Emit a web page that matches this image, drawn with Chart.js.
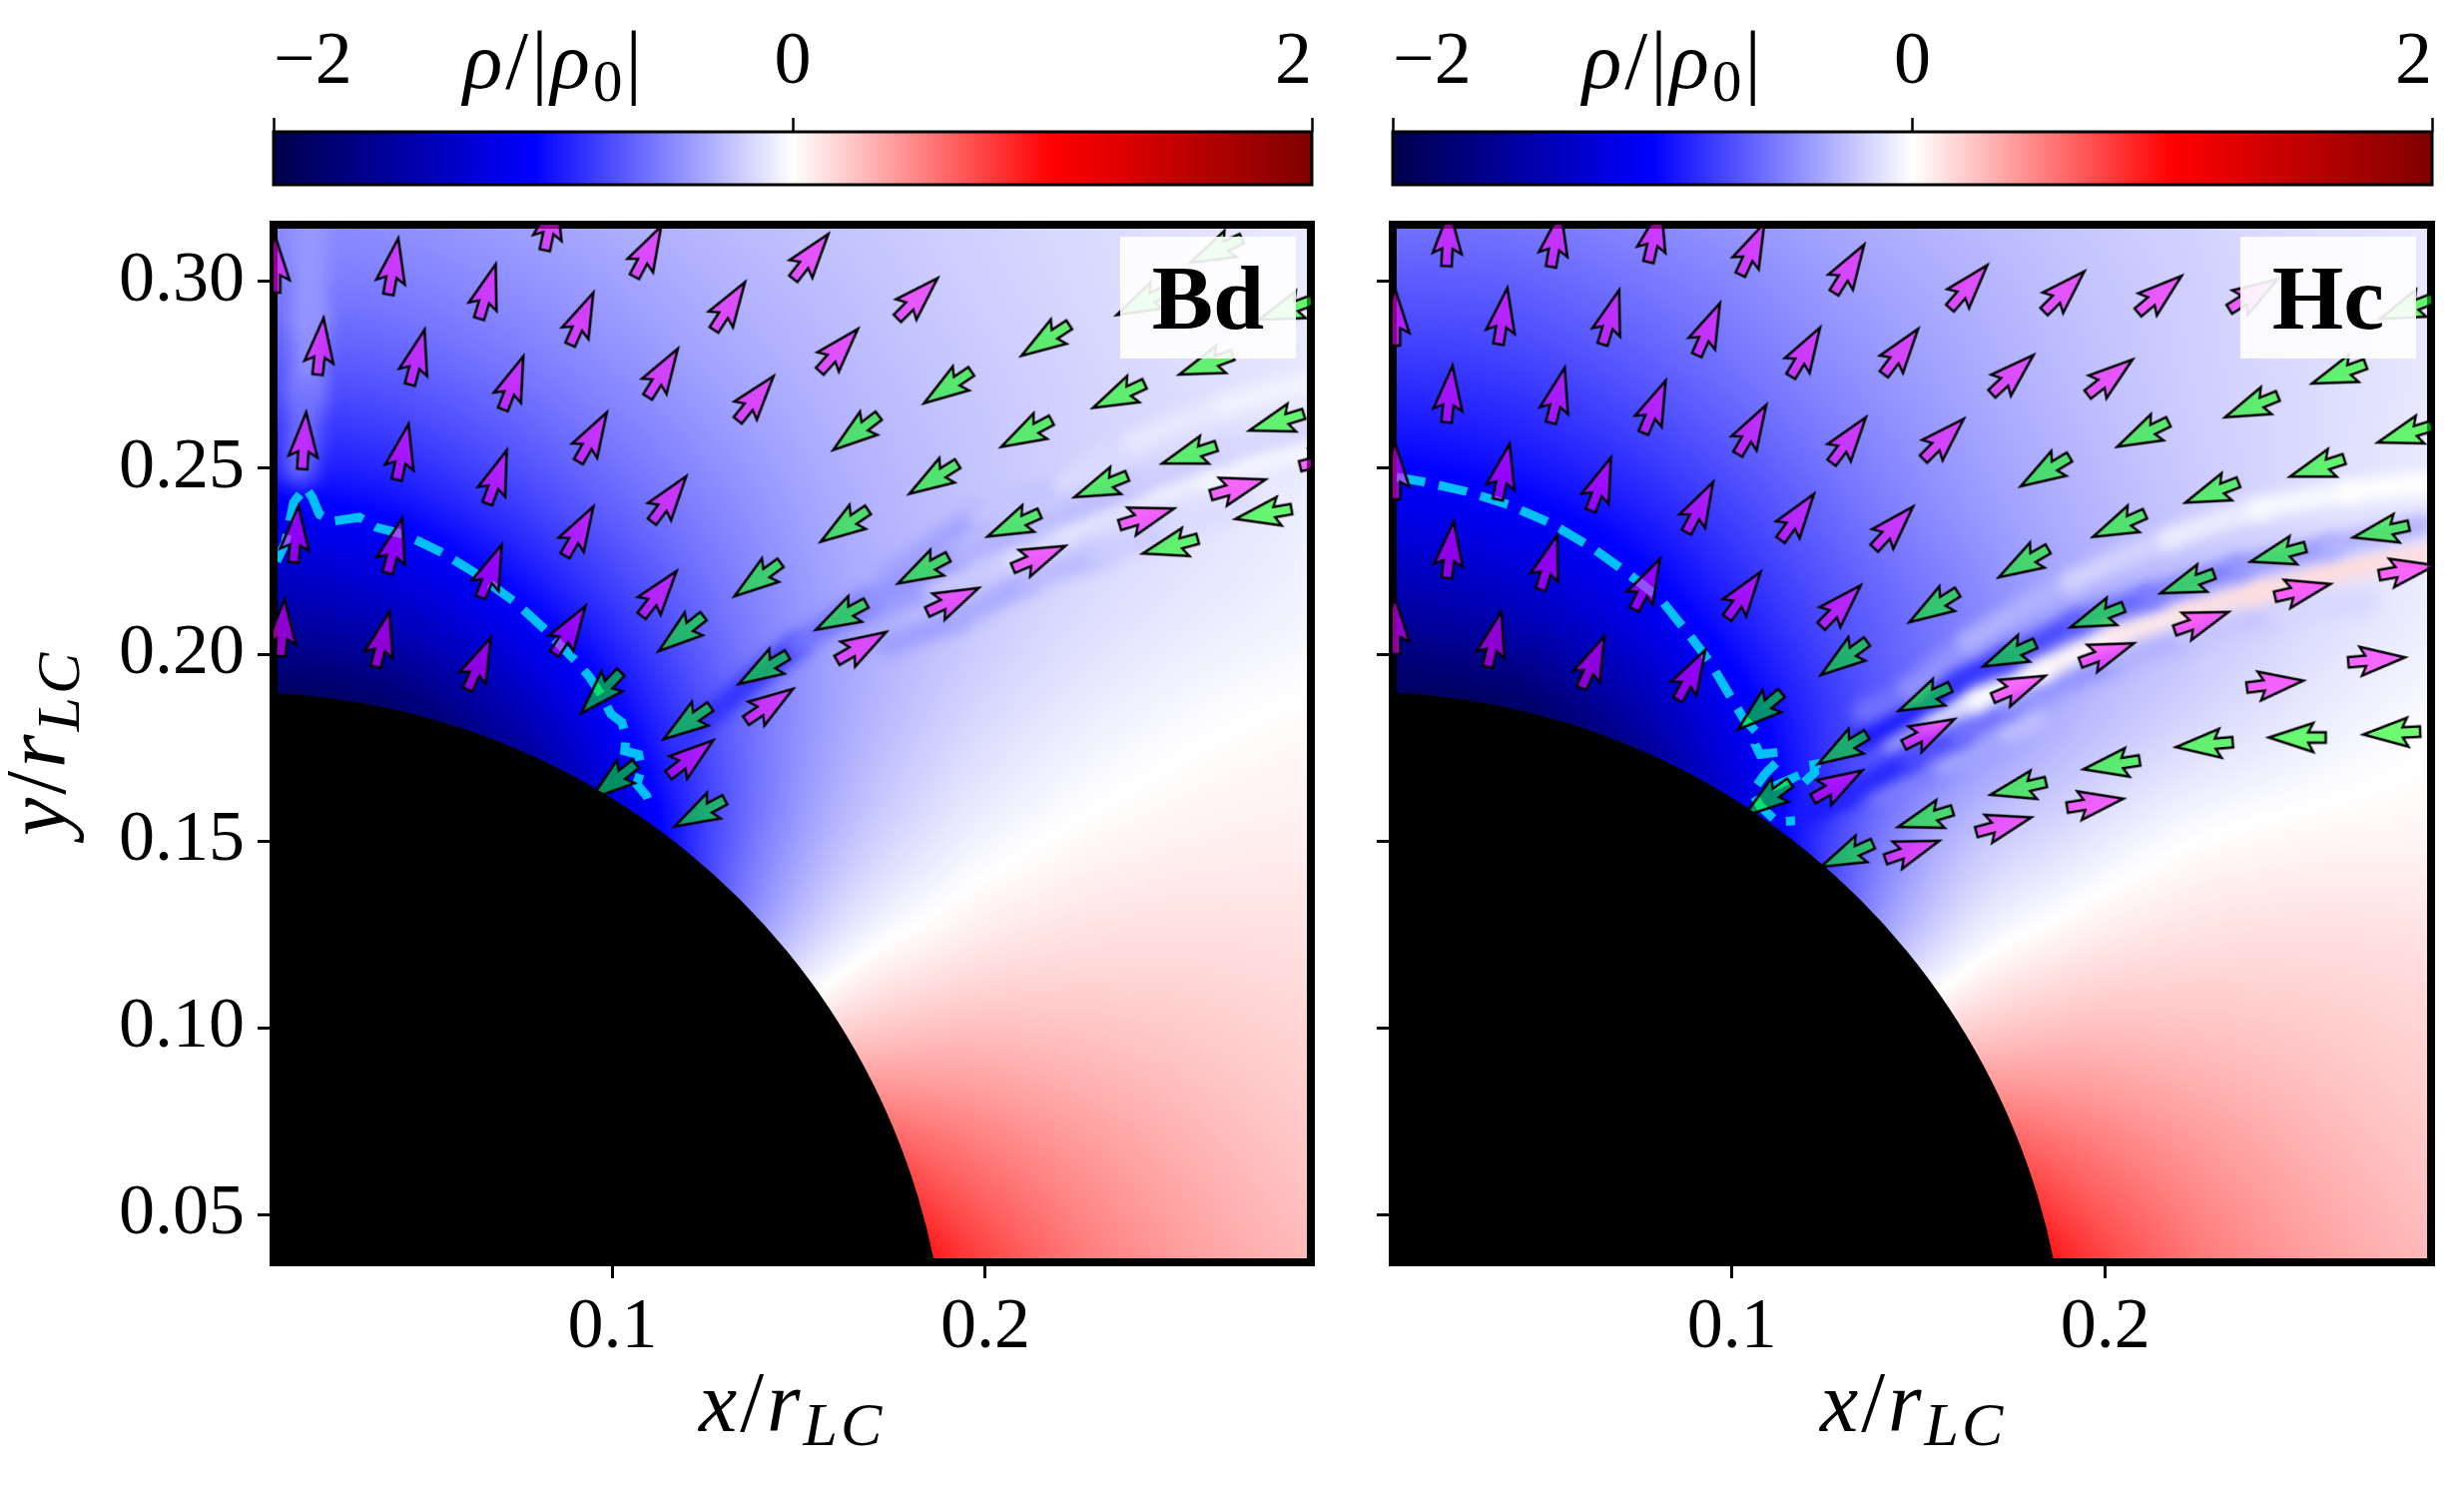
<!DOCTYPE html>
<html><head><meta charset="utf-8">
<script src="https://cdn.jsdelivr.net/npm/chart.js@4"></script>
<style>
html,body{margin:0;padding:0;background:#fff;width:2468px;height:1488px;overflow:hidden}
canvas{position:absolute}
.t{position:absolute;font-family:"Liberation Serif",serif;color:#000;line-height:1;white-space:nowrap;letter-spacing:3px}
.t sub{font-size:.72em;vertical-align:baseline;position:relative;top:.22em;line-height:0}
.box{position:absolute;background:rgba(255,255,255,.9);font-family:"Liberation Serif",serif;font-weight:bold;font-size:92px;line-height:122px;text-align:center}
</style></head><body>
<canvas id="cb1" width="1340" height="190" style="left:0;top:0"></canvas>
<canvas id="cb2" width="1128" height="190" style="left:1340px;top:0"></canvas>
<canvas id="p1" width="1340" height="1308" style="left:0;top:180px"></canvas>
<canvas id="p2" width="1128" height="1308" style="left:1340px;top:180px"></canvas>
<div class="t" style="left:464px;top:20px;font-size:82px"><i>ρ</i>/|<i>ρ</i><sub>0</sub>|</div>
<div class="t" style="left:1585px;top:20px;font-size:82px"><i>ρ</i>/|<i>ρ</i><sub>0</sub>|</div>
<div class="t" style="left:700px;top:1361px;font-size:86px"><i>x</i>/<i>r</i><sub><i>LC</i></sub></div>
<div class="t" style="left:1823px;top:1361px;font-size:86px"><i>x</i>/<i>r</i><sub><i>LC</i></sub></div>
<div class="t" style="left:-7px;top:837px;font-size:86px;transform-origin:0 0;transform:rotate(-90deg)"><i>y</i>/<i>r</i><sub><i>LC</i></sub></div>
<div class="box" style="left:1122px;top:237px;width:176px;height:122px">Bd</div>
<div class="box" style="left:2244px;top:237px;width:176px;height:122px">Hc</div>
<script>
// ---- axes
const xRange=[0.0091,0.2873], yRange=[0.0372,0.3152];
const xTicks=[0.1,0.2], yTicks=[0.05,0.10,0.15,0.20,0.25,0.30], cbTicks=[-2,0,2];
const surfaceRadius=0.19;
// ---- charge density grid (value at each grid node, rho/|rho0|)
const gridX=[0.01,0.04,0.07,0.10,0.13,0.16,0.19,0.22,0.25,0.28,0.31];
const gridY=[0.33,0.30,0.27,0.24,0.21,0.18,0.15,0.12,0.09,0.06,0.03];
const bdGrid=[
[-.42,-.40,-.35,-.29,-.25,-.21,-.18,-.15,-.12,-.09,-.07],
[-.52,-.50,-.44,-.37,-.30,-.25,-.20,-.16,-.12,-.09,-.06],
[-.72,-.68,-.58,-.47,-.37,-.29,-.23,-.18,-.14,-.10,-.06],
[-1.02,-.95,-.79,-.61,-.46,-.33,-.25,-.18,-.13,-.08,-.04],
[-1.50,-1.36,-1.10,-.81,-.55,-.36,-.24,-.15,-.09,-.05,-.01],
[-2,-1.9,-1.55,-1.05,-.64,-.35,-.18,-.08,-.02,.015,.03],
[-2,-2,-2,-1.3,-.66,-.27,-.08,.01,.05,.065,.07],
[-2,-2,-2,-1.4,-.5,-.07,.08,.13,.14,.13,.11],
[-1,-1,-.5,0,.2,.31,.33,.29,.24,.19,.155],
[1,1,1,1,1,.86,.63,.46,.34,.25,.19],
[1.5,1.5,1.5,1.5,1.5,1.43,.9,.59,.41,.3,.22]];
const hcGrid=[
[-.5,-.48,-.43,-.37,-.31,-.25,-.21,-.17,-.13,-.10,-.07],
[-.64,-.62,-.55,-.47,-.38,-.31,-.24,-.19,-.14,-.10,-.07],
[-.84,-.80,-.70,-.58,-.46,-.36,-.27,-.20,-.15,-.10,-.06],
[-1.1,-1.03,-.90,-.73,-.56,-.42,-.31,-.22,-.15,-.09,-.05],
[-1.55,-1.42,-1.18,-.90,-.67,-.50,-.34,-.24,-.15,-.08,-.03],
[-2,-1.95,-1.6,-1.12,-.74,-.46,-.28,-.16,-.08,-.02,.01],
[-2,-2,-2,-1.3,-.68,-.28,-.12,-.01,.03,.04,.05],
[-2,-2,-2,-1.4,-.5,-.07,.08,.13,.14,.13,.11],
[-1,-1,-.5,0,.2,.31,.33,.29,.24,.19,.155],
[1,1,1,1,1,.86,.63,.46,.34,.25,.19],
[1.5,1.5,1.5,1.5,1.5,1.43,.9,.59,.41,.3,.22]];
// ---- current-sheet streaks: [x, y, rho]
const bdStreaks=[
[[.1178,.1766,-.8],[.1493,.2023,-.55],[.1683,.214,-.42],[.1924,.2263,-.3],[.2114,.2335,-.26],[.24,.2451,-.2],[.2638,.2542,-.16],[.2861,.2603,-.13]],
[[.1636,.2087,-.38],[.1856,.2184,-.2],[.2066,.2263,-.12],[.221,.2336,-.09],[.2401,.2416,-.05],[.2592,.2478,-.03],[.286,.2558,-.01]],
[[.1731,.2023,-.38],[.1923,.2095,-.33],[.2114,.2194,-.27],[.2305,.2264,-.2],[.2497,.2336,-.14],[.2700,.2400,-.09]],
[[.1731,.2211,-.36],[.198,.2371,-.23],[.221,.2461,-.14],[.2401,.2568,-.09],[.2639,.2665,-.05],[.286,.2729,-.03]],
[[.0187,.32,-.4],[.0187,.29,-.42],[.0178,.27,-.55],[.016,.25,-.8]]];
const hcStreaks=[
[[.1353,.1846,-.55],[.1476,.1907,-.42],[.1634,.2033,-.3],[.1907,.2194,-.17],[.2169,.2309,-.07],[.241,.2389,-.02],[.2653,.2435,0],[.2861,.2461,.02]],
[[.1353,.1773,-.9],[.1433,.182,-.9],[.1548,.1895,-.85],[.1586,.1926,-.8],[.1733,.1988,-.72],[.1925,.2087,-.6],[.212,.2156,-.5],[.236,.2234,-.4],[.2604,.229,-.3],[.2855,.2349,-.25]],
[[.1423,.1773,-.35],[.153,.1827,-.12],[.1655,.1881,0],[.1829,.1961,.03],[.2022,.2049,.08],[.2217,.2113,.12],[.241,.2167,.13],[.2604,.222,.13],[.2861,.2268,.13]],
[[.1193,.1568,-.9],[.13,.1622,-.85],[.1476,.172,-.7],[.1611,.1787,-.55],[.1743,.186,-.42],[.2022,.198,-.3],[.2217,.2042,-.22],[.2458,.2103,-.16],[.2701,.2141,-.1]],
[[.1388,.1632,-.5],[.1567,.1702,-.35],[.1743,.1794,-.25],[.1816,.1827,-.2]]];
const bdStreakWidths=[22,22,22,22,32], hcStreakWidths=[22,22,22,22,22];
// ---- dashed contour rho=-1
const bdContour=[[.0099,.225],[.0123,.2301],[.0145,.2408],[.0177,.2448],[.0195,.2421],[.0214,.2376],[.0246,.2357],[.0321,.2368],[.0367,.2341],[.0442,.2322],[.0542,.2274],[.0625,.2223],[.074,.214],[.0827,.206],[.091,.1974],[.0937,.1942],[.0969,.1894],[.0996,.1841],[.1025,.1819],[.1036,.1782],[.1033,.1742],[.107,.1733],[.1078,.1693],[.1065,.1653],[.1092,.1621],[.1108,.1581]];
const hcContour=[[.0101,.2475],[.0169,.2464],[.0289,.2437],[.04,.2402],[.0511,.2354],[.062,.229],[.0714,.2223],[.0805,.2153],[.088,.206],[.0941,.198],[.1008,.1867],[.1032,.1827],[.1067,.1792],[.1062,.176],[.1075,.1733],[.1128,.1739],[.112,.1712],[.1088,.168],[.1054,.1632],[.1075,.1595],[.112,.1552],[.1169,.1555]];
const hcContour2=[[.1108,.1645],[.1169,.1672],[.118,.1645],[.1222,.1685],[.1219,.1706],[.1273,.1715]];
// ---- quiver arrows: [x, y, direction in degrees clockwise from up]
const bdMagenta=[[.0095,.3045,0],[.0412,.3039,10],[.0834,.3157,12],[.1094,.3079,28],[.1531,.3066,38],[.1817,.2954,45],[.0217,.2825,6],[.0476,.2796,15],[.0664,.2972,17],[.0917,.2899,24],[.1313,.2933,33],[.1606,.2815,42],[.0173,.2572,4],[.0437,.2542,12],[.0733,.2727,21],[.1134,.2754,32],[.1383,.2686,39],[.069,.2475,20],[.0946,.2582,30],[.1151,.2416,37],[.0151,.2322,5],[.0416,.2291,15],[.0674,.2223,22],[.091,.233,30],[.1124,.2163,38],[.0885,.2065,33],[.0115,.2071,4],[.0383,.204,14],[.0642,.1975,24],[.1209,.1723,52],[.142,.1865,56],[.1667,.2022,60],[.1912,.2146,65],[.2143,.2261,67],[.2432,.2369,73],[.2677,.2448,74],[.2917,.2523,76]];
const bdLime=[[.2162,.2843,237],[.19,.2717,236],[.1654,.2595,233],[.2359,.2694,245],[.2111,.2593,242],[.1862,.2472,238],[.1623,.2346,236],[.2593,.2777,250],[.2782,.2623,253],[.2548,.2536,252],[.2311,.2451,248],[.2077,.2348,246],[.1834,.2227,242],[.1614,.2103,242],[.2747,.2377,260],[.2497,.2291,255],[.262,.3083,245],[.2422,.2944,244],[.2807,.2924,250],[.1185,.2057,232],[.139,.2202,234],[.1405,.1961,239],[.097,.1899,224],[.1201,.1818,235],[.1003,.1661,232],[.1235,.1576,242]];
const hcMagenta=[[.0097,.2903,0],[.0097,.2491,0],[.0097,.2076,0],[.0239,.3116,3],[.0528,.3113,10],[.0793,.3125,13],[.1054,.3086,25],[.1313,.3033,32],[.1633,.2985,41],[.1889,.2972,45],[.2145,.2965,50],[.2396,.2965,58],[.0386,.2906,9],[.0675,.2903,17],[.0936,.2871,24],[.1196,.281,31],[.1452,.2811,37],[.1751,.275,47],[.2012,.2743,52],[.0243,.2697,6],[.0533,.2694,14],[.0792,.2663,23],[.1053,.2602,30],[.1312,.2574,37],[.1566,.2577,45],[.0388,.2489,12],[.0648,.2456,21],[.0913,.2394,28],[.1174,.2368,36],[.1432,.234,43],[.0245,.228,7],[.0509,.2246,17],[.0772,.2188,27],[.1031,.2159,36],[.1291,.213,44],[.0363,.204,14],[.0627,.1979,24],[.0891,.1945,29],[.1527,.1792,63],[.1282,.1651,60],[.1768,.1913,67],[.2004,.2004,70],[.2257,.2089,71],[.2528,.2172,77],[.2808,.2226,80],[.2726,.1986,85],[.2454,.1921,83],[.1972,.1602,81],[.1727,.1544,75],[.1482,.1476,71]];
const hcLime=[[.2627,.2753,250],[.2393,.2665,248],[.2102,.2591,244],[.184,.2491,239],[.2804,.2591,253],[.2569,.2501,252],[.2287,.2435,249],[.2038,.2347,246],[.1782,.2246,240],[.1541,.2128,238],[.274,.233,258],[.2464,.2269,255],[.2221,.2191,250],[.1979,.2101,249],[.1744,.2,246],[.1517,.1882,245],[.1297,.1747,239],[.1301,.1991,234],[.1075,.1849,230],[.1095,.1613,234],[.2808,.2927,249],[.1519,.1561,253],[.1309,.1463,246],[.1768,.1642,257],[.2018,.1705,261],[.2267,.1759,265],[.2516,.1778,270],[.2769,.179,267]];
// ---- colormap (seismic): value, r, g, b
const seismic=[[-2,0,0,76],[-1,0,0,255],[0,255,255,255],[1,255,0,0],[2,128,0,0]];

function rgb(v){
  v=Math.max(-2,Math.min(2,v));
  for(let i=0;i<seismic.length-1;i++){const a=seismic[i],b=seismic[i+1];
    if(v<=b[0]){const t=(v-a[0])/(b[0]-a[0]);return [a[1]+t*(b[1]-a[1]),a[2]+t*(b[2]-a[2]),a[3]+t*(b[3]-a[3])];}}
  return seismic[4].slice(1);
}
const css=v=>{const c=rgb(v);return `rgb(${c[0]|0},${c[1]|0},${c[2]|0})`;};
function cr(p0,p1,p2,p3,t){return .5*(2*p1+(p2-p0)*t+(2*p0-5*p1+4*p2-p3)*t*t+(3*p1-p0-3*p2+p3)*t*t*t);}
function sample(grid,x,y){
  const n=gridX.length,m=gridY.length;
  const fx=Math.max(0,Math.min(n-1.001,(x-gridX[0])/(gridX[1]-gridX[0])));
  const fy=Math.max(0,Math.min(m-1.001,(y-gridY[0])/(gridY[1]-gridY[0])));
  const ix=Math.floor(fx),iy=Math.floor(fy),tx=fx-ix,ty=fy-iy;
  const row=j=>{const r=grid[Math.max(0,Math.min(m-1,j))],g=i=>r[Math.max(0,Math.min(n-1,i))];return cr(g(ix-1),g(ix),g(ix+1),g(ix+2),tx);};
  return cr(row(iy-1),row(iy),row(iy+1),row(iy+2),ty);
}
const FONT='"Liberation Serif",serif';
function arrowImage(fill){
  const c=document.createElement('canvas');c.width=c.height=90;
  const g=c.getContext('2d');g.translate(45,45);
  const pts=[[0,-29],[14.5,15.5],[5.2,10.5],[5.2,28],[-5.2,28],[-5.2,10.5],[-14.5,15.5]];
  g.beginPath();pts.forEach((p,i)=>i?g.lineTo(p[0],p[1]):g.moveTo(p[0],p[1]));g.closePath();
  g.fillStyle=fill;g.fill();g.lineWidth=2.5;g.lineJoin='miter';g.strokeStyle='#000';g.stroke();
  return c;
}
const imgM=arrowImage('rgba(255,0,255,.56)'),imgL=arrowImage('rgba(0,255,0,.56)');

const heatPlugin={id:'heat',
  beforeDatasetsDraw(ch,a,o){
    const {left,top,width,height}=ch.chartArea,c=ch.ctx,S=2;
    const w=Math.ceil(width/S),h=Math.ceil(height/S);
    const off=document.createElement('canvas');off.width=w;off.height=h;
    const g=off.getContext('2d'),im=g.createImageData(w,h);
    for(let j=0;j<h;j++){const y=ch.scales.y.getValueForPixel(top+(j+.5)*S);
      for(let i=0;i<w;i++){const x=ch.scales.x.getValueForPixel(left+(i+.5)*S);
        const q=rgb(sample(o.grid,x,y)),k=4*(i+j*w);
        im.data[k]=q[0];im.data[k+1]=q[1];im.data[k+2]=q[2];im.data[k+3]=255;}}
    g.putImageData(im,0,0);
    c.save();c.imageSmoothingEnabled=true;c.drawImage(off,left,top,width,height);
    c.lineWidth=8;c.strokeStyle='#000';c.strokeRect(left,top,width,height);c.restore();
  },
  beforeDatasetDraw(ch,a){const d=ch.data.datasets[a.index];if(d.blur){ch.ctx.save();ch.ctx.filter=`blur(${d.blur}px)`;}},
  afterDatasetDraw(ch,a){const d=ch.data.datasets[a.index];if(d.blur){ch.ctx.restore();}}
};
function panel(id,cfg){
  const pts=a=>a.map(p=>({x:p[0],y:p[1],a:p[2]}));
  const ds=[];
  ds.push({label:'surface',data:[{x:0,y:0}],type:'scatter',order:0,clip:0,pointStyle:'circle',backgroundColor:'#000',borderWidth:0,pointBorderWidth:0,
    pointRadius:c=>c.chart.scales.x?c.chart.scales.x.getPixelForValue(surfaceRadius)-c.chart.scales.x.getPixelForValue(0):1});
  [[cfg.magenta,imgM,'ρ>0 flow'],[cfg.lime,imgL,'ρ<0 flow']].forEach(([a,img,l])=>ds.push({label:l,data:pts(a),type:'scatter',order:1,clip:0,pointStyle:img,pointRadius:45,pointRotation:c=>c.raw?c.raw.a:0}));
  cfg.contours.forEach(a=>ds.push({label:'contour',data:pts(a),type:'line',order:2,clip:-4,borderColor:'#00bfff',borderWidth:9,borderDash:[29,14],pointRadius:0,fill:false,tension:0,borderCapStyle:'butt'}));
  cfg.streaks.forEach((a,si)=>ds.push({label:'streak',data:a.map(p=>({x:p[0],y:p[1],v:p[2]})),type:'line',order:3,clip:-4,blur:cfg.widths[si]>25?10:7,borderWidth:cfg.widths[si],pointRadius:0,fill:false,tension:.3,borderCapStyle:'round',
    borderColor:css(a[0][2]),segment:{borderColor:c=>css(c.chart.data.datasets[c.datasetIndex].data[c.p0DataIndex].v)}}));
  const noPad=s=>{s.paddingTop=s.paddingBottom=s.paddingLeft=s.paddingRight=0;};
  return new Chart(document.getElementById(id),{type:'scatter',data:{datasets:ds},plugins:[heatPlugin],options:{
    responsive:false,animation:false,devicePixelRatio:1,events:[],
    layout:{autoPadding:false,padding:{top:45,right:cfg.right,left:0,bottom:0}},
    plugins:{legend:{display:false},tooltip:{enabled:false},heat:{grid:cfg.grid}},
    scales:{
      x:{type:'linear',min:xRange[0],max:xRange[1],afterBuildTicks:s=>{s.ticks=xTicks.map(v=>({value:v}));},afterFit:s=>{s.height=224;noPad(s);},
        border:{display:false},grid:{drawOnChartArea:false,tickLength:16,tickWidth:3,tickColor:'#000'},
        ticks:{font:{family:FONT,size:72},color:'#000',padding:7,maxRotation:0,autoSkip:false,callback:v=>v.toFixed(1)}},
      y:{type:'linear',min:yRange[0],max:yRange[1],afterBuildTicks:s=>{s.ticks=yTicks.map(v=>({value:v}));},afterFit:s=>{s.width=cfg.yw;noPad(s);},
        border:{display:false},grid:{drawOnChartArea:false,tickLength:16,tickWidth:3,tickColor:'#000'},
        ticks:{font:{family:FONT,size:72},color:'#000',padding:13,autoSkip:false,callback:v=>cfg.labels?v.toFixed(2):''}}
    }}});
}
const cbPlugin={id:'cbar',beforeDatasetsDraw(ch){
  const {left,top,width,height}=ch.chartArea,c=ch.ctx,x=ch.scales.x;
  const g=c.createLinearGradient(x.getPixelForValue(-2),0,x.getPixelForValue(2),0);
  seismic.forEach(s=>g.addColorStop((s[0]+2)/4,css(s[0])));
  c.save();c.fillStyle=g;c.fillRect(left,top,width,height);c.lineWidth=3;c.strokeStyle='#000';c.strokeRect(left,top,width,height);c.restore();
}};
function colorbar(id,l,r){
  return new Chart(document.getElementById(id),{type:'scatter',data:{datasets:[{label:'ρ/|ρ0|',data:[]}]},plugins:[cbPlugin],options:{
    responsive:false,animation:false,devicePixelRatio:1,events:[],
    layout:{autoPadding:false,padding:{left:l,right:r,bottom:5,top:0}},
    plugins:{legend:{display:false},tooltip:{enabled:false}},
    scales:{
      x:{type:'linear',position:'top',min:-2,max:2,afterBuildTicks:s=>{s.ticks=cbTicks.map(v=>({value:v}));},afterFit:s=>{s.height=132;},
        border:{display:false},grid:{drawOnChartArea:false,tickLength:14,tickWidth:2.5,tickColor:'#000'},
        ticks:{align:'inner',font:{family:FONT,size:74},color:'#000',padding:10,maxRotation:0,autoSkip:false,callback:v=>v<0?'−'+Math.abs(v):String(v)}},
      y:{display:false,min:0,max:1}
    }}});
}
colorbar('cb1',274,26);
colorbar('cb2',55,32);
panel('p1',{grid:bdGrid,magenta:bdMagenta,lime:bdLime,contours:[bdContour],streaks:bdStreaks,widths:bdStreakWidths,right:27,yw:274,labels:true});
panel('p2',{grid:hcGrid,magenta:hcMagenta,lime:hcLime,contours:[hcContour,hcContour2],streaks:hcStreaks,widths:hcStreakWidths,right:33,yw:55,labels:false});
</script>
</body></html>
